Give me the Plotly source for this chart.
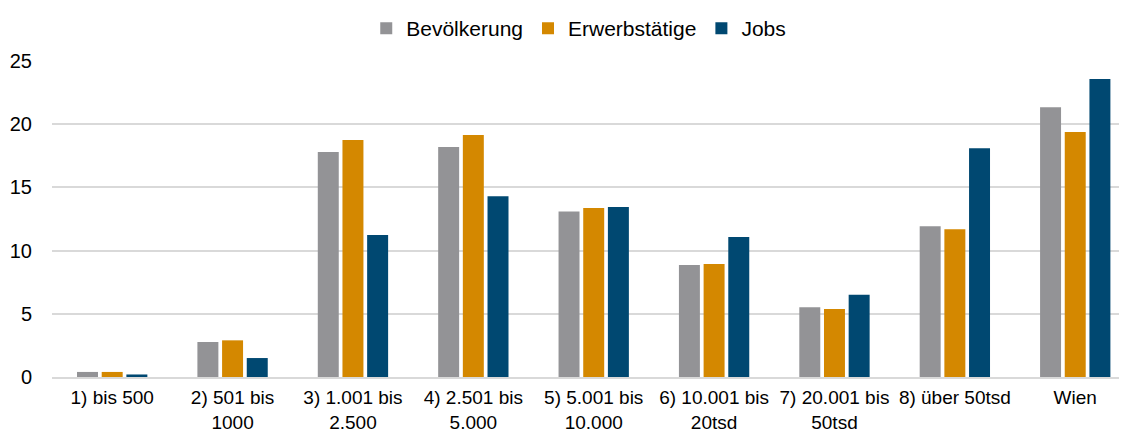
import plotly.graph_objects as go

categories = ["1) bis 500", "2) 501 bis<br>1000", "3) 1.001 bis<br>2.500", "4) 2.501 bis<br>5.000",
              "5) 5.001 bis<br>10.000", "6) 10.001 bis<br>20tsd", "7) 20.001 bis<br>50tsd",
              "8) über 50tsd", "Wien"]
bevoelkerung = [0.4, 2.77, 17.8, 18.2, 13.1, 8.86, 5.51, 11.92, 21.35]
erwerbstaetige = [0.4, 2.9, 18.75, 19.15, 13.37, 8.94, 5.38, 11.68, 19.38]
jobs = [0.2, 1.5, 11.23, 14.3, 13.45, 11.08, 6.51, 18.09, 23.57]

series = [("Bevölkerung", bevoelkerung, "#939396"),
          ("Erwerbstätige", erwerbstaetige, "#D48800"),
          ("Jobs", jobs, "#004871")]

fig = go.Figure()
for name, vals, col in series:
    fig.add_trace(go.Bar(x=categories, y=vals, name=name, marker_color=col,
                         marker_line_width=0))

# page body has an 8px margin, so the figure is sized/offset to compensate
fig.update_layout(
    width=1119, height=422,
    margin=dict(l=44, r=0, t=53, b=53, autoexpand=False),
    paper_bgcolor="white", plot_bgcolor="white",
    barmode="group", bargap=0.385, bargroupgap=0.15,
    font=dict(family="Liberation Sans, Arial, sans-serif", size=19, color="#000000"),
    legend=dict(orientation="h", x=0.490, xanchor="center", y=1.0, yanchor="top",
                yref="container", font=dict(size=21), traceorder="normal"),
    xaxis=dict(showgrid=False, showline=True, linecolor="#d9d9d9", linewidth=2,
               ticks="", tickfont=dict(size=19), range=[-0.5, 8.43],
               ticklabelstandoff=2),
    yaxis=dict(range=[0, 25], dtick=5, showgrid=True, gridcolor="#d9d9d9", gridwidth=2,
               zeroline=False, showline=False, ticks="", tickfont=dict(size=20),
               ticklabelstandoff=19),
)
fig.write_html("out.html")
